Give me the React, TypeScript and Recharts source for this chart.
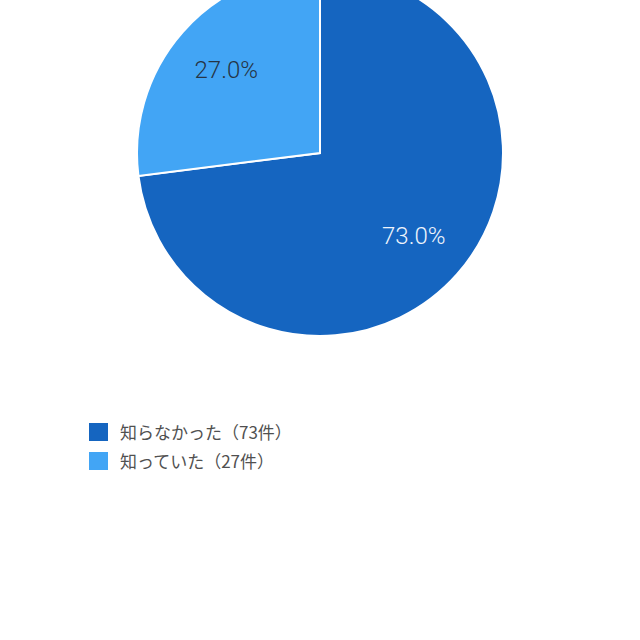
import { Cell, Legend, Pie, PieChart } from 'recharts'

const categories = ['知らなかった', '知っていた']
const counts = [73, 27]
const colors = ['#1565C0', '#42A5F5']
const labelColors = ['#eef4fc', '#263445']

const data = categories.map((name, i) => ({
  name: `${name}（${counts[i]}件）`,
  value: counts[i],
}))

const total = counts.reduce((a, b) => a + b, 0)
const RAD = Math.PI / 180

function renderLabel(props: any) {
  const { cx, cy, midAngle, index, value } = props
  const r = 125
  const x = cx + r * Math.cos(-midAngle * RAD)
  const y = cy + r * Math.sin(-midAngle * RAD)
  return (
    <text
      x={x}
      y={y}
      fill={labelColors[index]}
      textAnchor="middle"
      dominantBaseline="central"
      fontSize={24}
      fontWeight={300}
      fontFamily="Roboto, 'Noto Sans', sans-serif"
    >
      {`${((value / total) * 100).toFixed(1)}%`}
    </text>
  )
}

function LegendContent(props: any) {
  const { payload } = props
  const items = [...(payload || [])].sort(
    (a: any, b: any) =>
      data.findIndex((d) => d.name === a.value) -
      data.findIndex((d) => d.name === b.value),
  )
  return (
    <div>
      {items.map((entry: any, i: number) => (
        <div
          key={`item-${i}`}
          style={{ display: 'flex', alignItems: 'center', height: 29 }}
        >
          <span
            style={{
              display: 'inline-block',
              width: 19,
              height: 18,
              background: entry.color,
              marginRight: 12,
            }}
          />
          <span
            style={{
              fontSize: 17,
              color: '#505050',
              fontFamily: "'Noto Sans CJK JP', 'Noto Sans', sans-serif",
            }}
          >
            {entry.value}
          </span>
        </div>
      ))}
    </div>
  )
}

export default function App() {
  return (
    <div
      style={{
        position: 'absolute',
        left: 0,
        top: 0,
        width: 640,
        height: 640,
        background: '#fff',
      }}
    >
      <PieChart
        width={640}
        height={640}
        margin={{ top: 0, right: 0, bottom: 0, left: 0 }}
      >
        <Pie
          data={data}
          dataKey="value"
          nameKey="name"
          cx={320}
          cy={153}
          outerRadius={183}
          startAngle={90}
          endAngle={-270}
          stroke="#fff"
          strokeWidth={2}
          label={renderLabel}
          labelLine={false}
          isAnimationActive={false}
        >
          {data.map((entry, index) => (
            <Cell key={`cell-${index}`} fill={colors[index]} />
          ))}
        </Pie>
        <Legend
          layout="horizontal"
          align="left"
          verticalAlign="bottom"
          content={<LegendContent />}
          wrapperStyle={{ top: 417, left: 89, width: 300, bottom: 'auto' }}
        />
      </PieChart>
    </div>
  )
}
